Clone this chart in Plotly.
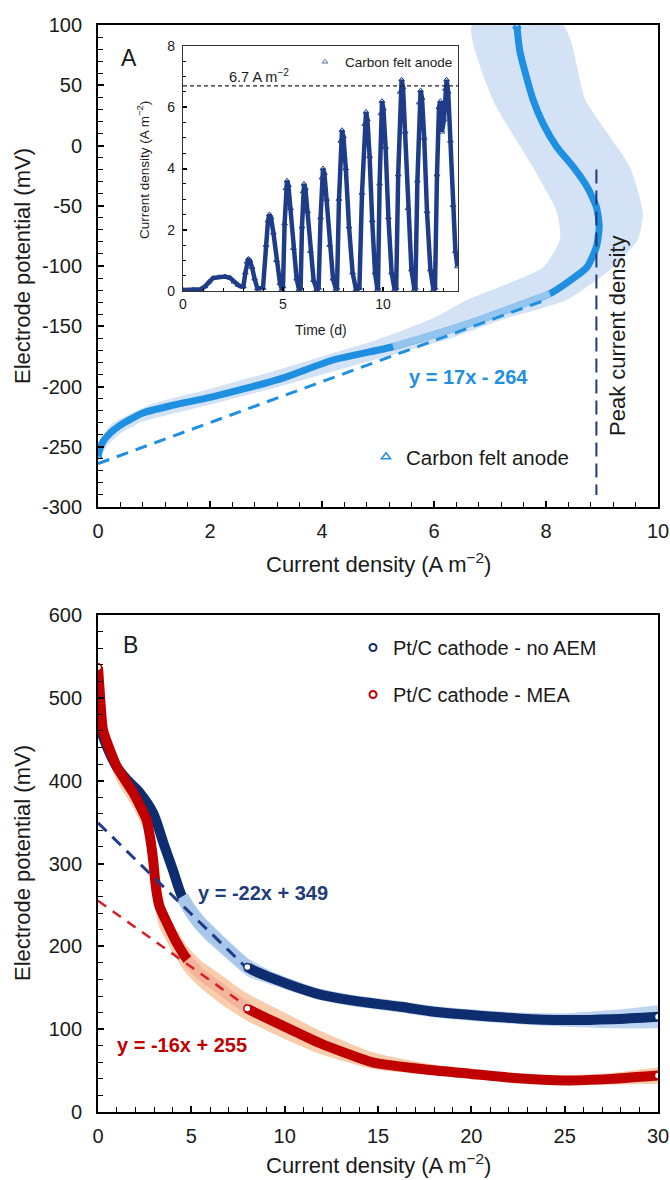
import plotly.graph_objects as go

W, H = 670, 1180
FONT = "Liberation Sans"

# ---------------- Panel A : carbon felt anode polarisation ----------------
a_x = [0, 0.03, 0.1, 0.21, 0.4, 0.8, 1.3, 2.0, 2.6, 3.3, 4.2, 5.27, 6.0, 6.8, 7.5, 8.07,
       8.37, 8.73, 8.9, 8.95, 8.9, 8.73, 8.49, 8.19, 7.95, 7.77, 7.65, 7.53, 7.48]
a_y = [-258, -252, -245, -239, -232, -222, -216, -209, -202, -193, -178, -167, -157, -145, -133, -123,
       -114, -101, -84, -67, -51, -34, -18, -1, 18, 38, 57, 79, 99]
# standard-deviation envelope (upper-left edge and lower-right edge)
a_band_ul_x = [0, 0.2, 1, 2, 3, 4, 5, 6, 6.6, 7.3, 7.95, 8.25, 8.2, 7.77, 7.05, 6.68]
a_band_ul_y = [-252, -233, -214, -202, -189, -175, -161, -143, -128, -115, -101, -78, -56, -18, 38, 100]
a_band_lr_x = [0, 0.15, 0.4, 0.8, 1.3, 2, 3, 4, 5.39, 6.3, 7.18, 8.37, 9.2, 9.64, 9.73, 9.5, 9.1, 8.7, 8.3]
a_band_lr_y = [-264, -250, -239, -229, -223, -215, -203, -190, -172, -160, -145, -128, -101, -78, -56, -18, 10, 38, 100]
A_FIT_SLOPE, A_FIT_INT = 17, -264
A_FIT_X = [0, 8]
A_FADE_Y = (-168, -120)
PEAK_J = 8.9
PEAK_LINE_Y = [-20, -290]
A_YTICKS = [100, 50, 0, -50, -100, -150, -200, -250, -300]
A_YTICKTEXT = ["100", "50", "0", "-50", "-100", "-150", "-200", "-250", "-300"]
A_XTICKS = [0, 2, 4, 6, 8, 10]

# ---------------- Inset : current density vs time ----------------
t_inset = [0, 0.5, 0.9, 1.1, 1.3, 1.5, 1.8, 2.1, 2.35, 2.55, 2.75, 2.9,
           3.02, 3.12, 3.2, 3.27, 3.34, 3.45, 3.58, 3.72,
           4.0, 4.15, 4.25, 4.32, 4.4, 4.52, 4.67, 4.85, 4.95,
           5.0, 5.08, 5.14, 5.2, 5.27, 5.38, 5.52, 5.68, 5.8,
           5.88, 5.95, 6.0, 6.05, 6.12, 6.23, 6.37, 6.53, 6.68,
           6.78, 6.88, 6.95, 7.0, 7.07, 7.18, 7.33, 7.5, 7.65,
           7.7, 7.8, 7.89, 7.95, 8.02, 8.14, 8.3, 8.48, 8.65,
           8.82, 8.95, 9.08, 9.15, 9.22, 9.33, 9.46, 9.6, 9.72,
           9.75, 9.83, 9.9, 9.95, 10.02, 10.13, 10.27, 10.43, 10.58,
           10.66, 10.76, 10.86, 10.93, 11.0, 11.11, 11.25, 11.42, 11.57,
           11.62, 11.72, 11.81, 11.88, 11.95, 12.06, 12.2, 12.37, 12.52,
           12.6, 12.7, 12.8, 12.87, 12.95, 13.05, 13.12, 13.18, 13.26, 13.37, 13.5, 13.62, 13.72]
j_inset = [0.03, 0.04, 0.06, 0.15, 0.3, 0.42, 0.45, 0.47, 0.43, 0.3, 0.2, 0.15,
           0.15, 0.6, 0.95, 1.05, 1.0, 0.78, 0.4, 0.08,
           0.1, 1.5, 2.3, 2.5, 2.4, 1.9, 1.0, 0.25, 0.05,
           0.15, 2.2, 3.35, 3.6, 3.45, 2.7, 1.4, 0.4, 0.05,
           0.1, 2.1, 3.25, 3.5, 3.35, 2.6, 1.3, 0.35, 0.05,
           0.1, 2.4, 3.7, 4.0, 3.85, 3.0, 1.5, 0.4, 0.05,
           0.1, 3.0, 4.9, 5.25, 5.05, 4.0, 2.1, 0.6, 0.05,
           0.1, 3.2, 5.45, 5.85, 5.6, 4.4, 2.3, 0.6, 0.05,
           0.1, 3.5, 5.8, 6.2, 5.95, 4.7, 2.4, 0.6, 0.05,
           0.1, 3.8, 6.5, 6.9, 6.65, 5.2, 2.7, 0.7, 0.05,
           0.1, 3.6, 6.15, 6.55, 6.3, 5.0, 2.6, 0.7, 0.05,
           0.1, 3.8, 6.0, 6.2, 5.2, 5.6, 6.6, 6.9, 6.5, 4.9, 2.8, 1.3, 0.8]
INSET_REF_J = 6.7
INSET_XTICKS = [0, 5, 10]
INSET_YTICKS = [0, 2, 4, 6, 8]

# ---------------- Panel B : Pt/C cathodes ----------------
nav_x = [0, 0.05, 0.27, 1.0, 1.6, 2.25, 2.95, 3.5, 4.0, 4.5, 5.1, 5.8, 6.8, 8.0, 9.5, 11.7,
         13.5, 16.2, 18, 20, 22.5, 25, 27.5, 30]
nav_y = [515, 470, 453, 417, 400, 385, 361, 325, 293, 260, 238, 220, 199, 175, 160, 143,
         135, 127, 121, 117, 113, 111, 112, 115]
nav_lo = [505, 460, 445, 409, 392, 377, 352, 314, 281, 246, 224, 207, 187, 164, 152, 136,
          128, 120, 114, 110, 106, 103, 101, 101]
nav_hi = [525, 480, 461, 425, 408, 393, 370, 336, 305, 272, 252, 233, 211, 186, 168, 150,
          142, 134, 128, 124, 120, 119, 123, 129]
red_x = [0, 0.1, 0.27, 1.0, 1.9, 2.6, 2.8, 2.95, 3.05, 3.15, 3.3, 3.7, 4.2, 4.78, 5.5, 6.5,
         8.0, 10, 11.9, 14.7, 17.7, 20, 22.3, 25, 27.5, 30]
red_y = [537, 505, 461, 417, 385, 353, 330, 305, 282, 264, 248, 228, 205, 184, 166, 150,
         125, 103, 83, 60, 51, 46, 41, 38, 40, 44]
red_lo = [530, 495, 445, 400, 367, 333, 305, 278, 252, 235, 222, 205, 185, 166, 150, 132,
          110, 88, 70, 52, 45, 40, 36, 33, 33, 34]
red_hi = [542, 515, 466, 420, 389, 357, 335, 310, 287, 270, 255, 240, 220, 200, 183, 167,
          143, 120, 98, 72, 58, 52, 46, 44, 47, 54]
NAV_FIT_SLOPE, NAV_FIT_INT = -22, 349
RED_FIT_SLOPE, RED_FIT_INT = -16, 255
B_FIT_X = [0, 8]
NAV_FADE_X = (4.5, 8.0)
RED_FADE_X = (4.78, 8.0)
B_XTICKS = [0, 5, 10, 15, 20, 25, 30]
B_YTICKS = [0, 100, 200, 300, 400, 500, 600]

# ---------------- colours ----------------
A_BLUE = "#1E8FE1"
A_BAND = "#D3E2F5"
A_PALE = "#93C5EE"
PEAK_NAVY = "#1F3A78"
INSET_NAVY = "#1F3C88"
B_NAVY = "#0E2D6E"
B_NAVY_BAND = "#BDD5F1"
B_NAVY_PALE = "#A9C7EA"
B_RED = "#C00000"
B_RED_BAND = "#F9CCAC"
B_RED_PALE = "#F2B49C"


def px(x):
    return x / W


def py(y):
    return 1 - y / H


fig = go.Figure()

# ---- Panel A traces ----
fig.add_trace(go.Scatter(
    x=a_band_ul_x + a_band_lr_x[::-1], y=a_band_ul_y + a_band_lr_y[::-1],
    fill="toself", fillcolor=A_BAND, mode="lines",
    line=dict(width=0, shape="spline", smoothing=0.6),
    xaxis="x", yaxis="y", showlegend=False, hoverinfo="skip"))
fig.add_trace(go.Scatter(
    x=a_x, y=a_y, mode="lines",
    line=dict(color=A_BLUE, width=7, shape="spline", smoothing=0.6),
    xaxis="x", yaxis="y", showlegend=False))
fig.add_trace(go.Scatter(
    x=[a_x[0], a_x[-1]], y=[a_y[0], a_y[-1]], mode="markers",
    marker=dict(symbol="triangle-up-open", size=7, color=A_BLUE, line=dict(width=1.5)),
    xaxis="x", yaxis="y", showlegend=False))
fade_idx = [i for i, v in enumerate(a_y) if A_FADE_Y[0] <= v <= A_FADE_Y[1] and a_x[i] > 5]
fig.add_trace(go.Scatter(
    x=[a_x[i] for i in fade_idx], y=[a_y[i] for i in fade_idx], mode="lines",
    line=dict(color=A_PALE, width=7, shape="spline", smoothing=0.6),
    xaxis="x", yaxis="y", showlegend=False, hoverinfo="skip"))
fig.add_trace(go.Scatter(
    x=A_FIT_X, y=[A_FIT_SLOPE * v + A_FIT_INT for v in A_FIT_X], mode="lines",
    line=dict(color=A_BLUE, width=3, dash="12px,8px"),
    xaxis="x", yaxis="y", showlegend=False))
fig.add_trace(go.Scatter(
    x=[PEAK_J, PEAK_J], y=PEAK_LINE_Y, mode="lines",
    line=dict(color=PEAK_NAVY, width=2, dash="14px,7px"),
    xaxis="x", yaxis="y", showlegend=False))
fig.add_trace(go.Scatter(
    x=[None], y=[None], mode="markers", name="Carbon felt anode",
    marker=dict(symbol="triangle-up-open", size=8, color=A_BLUE, line=dict(width=1.5)),
    xaxis="x", yaxis="y", legend="legend"))

# ---- Inset traces ----
fig.add_trace(go.Scatter(
    x=t_inset, y=j_inset, mode="lines+markers",
    line=dict(color=INSET_NAVY, width=4.5),
    marker=dict(symbol="triangle-up-open", size=5, color=INSET_NAVY, line=dict(width=1)),
    xaxis="x2", yaxis="y2", showlegend=False))
fig.add_trace(go.Scatter(
    x=[None], y=[None], mode="markers", name="Carbon felt anode",
    marker=dict(symbol="triangle-up-open", size=5, color="#5A6FA8", line=dict(width=1)),
    xaxis="x2", yaxis="y2", legend="legend2"))

# ---- Panel B traces ----
fig.add_trace(go.Scatter(x=nav_x, y=nav_lo, mode="lines",
                         line=dict(width=0, shape="spline", smoothing=0.5),
                         xaxis="x3", yaxis="y3", showlegend=False, hoverinfo="skip"))
fig.add_trace(go.Scatter(x=nav_x, y=nav_hi, mode="lines", fill="tonexty", fillcolor=B_NAVY_BAND,
                         line=dict(width=0, shape="spline", smoothing=0.5),
                         xaxis="x3", yaxis="y3", showlegend=False, hoverinfo="skip"))
fig.add_trace(go.Scatter(x=red_x, y=red_lo, mode="lines",
                         line=dict(width=0, shape="spline", smoothing=0.5),
                         xaxis="x3", yaxis="y3", showlegend=False, hoverinfo="skip"))
fig.add_trace(go.Scatter(x=red_x, y=red_hi, mode="lines", fill="tonexty", fillcolor=B_RED_BAND,
                         line=dict(width=0, shape="spline", smoothing=0.5),
                         xaxis="x3", yaxis="y3", showlegend=False, hoverinfo="skip"))
fig.add_trace(go.Scatter(x=nav_x, y=nav_y, mode="lines",
                         line=dict(color=B_NAVY, width=10, shape="spline", smoothing=0.9),
                         xaxis="x3", yaxis="y3", showlegend=False))
fig.add_trace(go.Scatter(x=red_x, y=red_y, mode="lines",
                         line=dict(color=B_RED, width=10, shape="spline", smoothing=0.5),
                         xaxis="x3", yaxis="y3", showlegend=False))
nf = [i for i, v in enumerate(nav_x) if NAV_FADE_X[0] <= v <= NAV_FADE_X[1]]
fig.add_trace(go.Scatter(x=[nav_x[i] for i in nf], y=[nav_y[i] for i in nf], mode="lines",
                         line=dict(color=B_NAVY_PALE, width=13, shape="spline", smoothing=0.5),
                         xaxis="x3", yaxis="y3", showlegend=False, hoverinfo="skip"))
rf = [i for i, v in enumerate(red_x) if RED_FADE_X[0] <= v <= RED_FADE_X[1]]
fig.add_trace(go.Scatter(x=[red_x[i] for i in rf], y=[red_y[i] for i in rf], mode="lines",
                         line=dict(color=B_RED_PALE, width=11, shape="spline", smoothing=0.5),
                         xaxis="x3", yaxis="y3", showlegend=False, hoverinfo="skip"))
fig.add_trace(go.Scatter(x=B_FIT_X, y=[NAV_FIT_SLOPE * v + NAV_FIT_INT for v in B_FIT_X], mode="lines",
                         line=dict(color=INSET_NAVY, width=3, dash="12px,8px"),
                         xaxis="x3", yaxis="y3", showlegend=False))
fig.add_trace(go.Scatter(x=B_FIT_X, y=[RED_FIT_SLOPE * v + RED_FIT_INT for v in B_FIT_X], mode="lines",
                         line=dict(color="#D42020", width=2.5, dash="10px,8px"),
                         xaxis="x3", yaxis="y3", showlegend=False))
# end-point and fit-end markers
n8 = nav_x.index(B_FIT_X[1])
r8 = red_x.index(B_FIT_X[1])
fig.add_trace(go.Scatter(x=[nav_x[n8], nav_x[-1]], y=[nav_y[n8], nav_y[-1]], mode="markers",
                         marker=dict(symbol="circle", size=7, color="white", line=dict(color=B_NAVY, width=1.5)),
                         xaxis="x3", yaxis="y3", showlegend=False))
fig.add_trace(go.Scatter(x=[red_x[0], red_x[r8], red_x[-1]], y=[red_y[0], red_y[r8], red_y[-1]], mode="markers",
                         marker=dict(symbol="circle", size=7, color="white", line=dict(color=B_RED, width=1.5)),
                         xaxis="x3", yaxis="y3", showlegend=False))
fig.add_trace(go.Scatter(x=[None], y=[None], mode="markers", name="Pt/C cathode - no AEM",
                         legendgroup="nav",
                         marker=dict(symbol="circle-open", size=7, color=B_NAVY, line=dict(width=2)),
                         xaxis="x3", yaxis="y3", legend="legend3"))
fig.add_trace(go.Scatter(x=[None], y=[None], mode="markers", name="Pt/C cathode - MEA",
                         legendgroup="red",
                         marker=dict(symbol="circle-open", size=7, color=B_RED, line=dict(width=2)),
                         xaxis="x3", yaxis="y3", legend="legend3"))


def axis(**kw):
    base = dict(showline=True, linecolor="black", linewidth=1.8, mirror=True,
                ticks="inside", ticklen=6, tickwidth=1.5, tickcolor="black",
                showgrid=False, zeroline=False, ticklabeloverflow="allow",
                tickfont=dict(family=FONT, size=20, color="#1a1a1a"))
    base.update(kw)
    return base


def minor(dt, ln=5):
    return dict(ticks="inside", ticklen=ln, tickwidth=1.2, tickcolor="black", dtick=dt, showgrid=False)


fig.update_layout(
    width=W, height=H, margin=dict(l=0, r=0, t=0, b=0, autoexpand=False),
    paper_bgcolor="white", plot_bgcolor="white",
    font=dict(family=FONT, color="#1a1a1a"),
    xaxis=axis(domain=[px(98), px(658)], range=[0, 10], tickmode="array", tickvals=A_XTICKS,
               minor=minor(0.4), anchor="y", ticklabelstandoff=5),
    yaxis=axis(domain=[py(507), py(25)], range=[-300, 100], tickmode="array",
               tickvals=A_YTICKS, ticktext=A_YTICKTEXT, minor=dict(minor(10), tick0=0),
               anchor="x", ticklabelstandoff=10),
    xaxis2=axis(domain=[px(183), px(458)], range=[0, 13.75], tickmode="array", tickvals=INSET_XTICKS,
                minor=minor(1, 3), anchor="y2", linewidth=1.2, linecolor="#333", ticklen=4,
                tickfont=dict(family=FONT, size=14, color="#1a1a1a")),
    yaxis2=axis(domain=[py(291), py(46)], range=[0, 8], tickmode="array", tickvals=INSET_YTICKS,
                minor=minor(0.5, 3), anchor="x2", linewidth=1.2, linecolor="#333", ticklen=4,
                tickfont=dict(family=FONT, size=14, color="#1a1a1a"), ticklabelstandoff=4),
    xaxis3=axis(domain=[px(98), px(658)], range=[0, 30], tickmode="array", tickvals=B_XTICKS,
                minor=minor(1), anchor="y3", ticklabelstandoff=5),
    yaxis3=axis(domain=[py(1112), py(615)], range=[0, 600], tickmode="array", tickvals=B_YTICKS,
                minor=minor(20), anchor="x3", ticklabelstandoff=10),
    legend=dict(x=px(366), y=py(457), xanchor="left", yanchor="middle",
                bgcolor="rgba(0,0,0,0)", font=dict(family=FONT, size=20.5, color="#1a1a1a")),
    legend2=dict(x=px(305), y=py(62), xanchor="left", yanchor="middle",
                 bgcolor="rgba(0,0,0,0)", font=dict(family=FONT, size=13.5, color="#1a1a1a")),
    legend3=dict(x=px(353), y=py(628), xanchor="left", yanchor="top", traceorder="grouped",
                 tracegroupgap=18, bgcolor="rgba(0,0,0,0)",
                 font=dict(family=FONT, size=20, color="#1a1a1a")),
    shapes=[dict(type="line", xref="x2 domain", yref="y2", x0=0, x1=1,
                 y0=INSET_REF_J, y1=INSET_REF_J,
                 line=dict(color="#222", width=1.2, dash="4px,3px"))],
)


def ann(text, x, y, size=20, color="#1a1a1a", angle=0, bold=False):
    if bold:
        text = "<b>" + text + "</b>"
    fig.add_annotation(text=text, x=px(x), y=py(y), xref="paper", yref="paper",
                       xanchor="center", yanchor="middle", showarrow=False, textangle=angle,
                       font=dict(family=FONT, size=size, color=color))


ann("Electrode potential (mV)", 22, 266, size=22, angle=-90)
ann("Current density (A m<sup>\u22122</sup>)", 378, 563, size=22)
ann("Electrode potential (mV)", 22, 863, size=22, angle=-90)
ann("Current density (A m<sup>\u22122</sup>)", 378, 1164, size=22)
ann("Current density (A m<sup>\u22122</sup>)", 143, 170, size=13.5, angle=-90)
ann("Time (d)", 321, 330, size=14)
ann("6.7 A m<sup>\u22122</sup>", 259, 76, size=14.5)
ann("A", 129, 58, size=23)
ann("B", 130, 645, size=23)
ann("Peak current density", 618, 336, size=22, angle=-90)
ann("y = 17x - 264", 468, 377, size=20, color=A_BLUE, bold=True)
ann("y = -22x + 349", 263, 893, size=20, color="#1F3C7A", bold=True)
ann("y = -16x + 255", 182, 1045, size=20, color=B_RED, bold=True)

fig.write_html("out.html", config={"displayModeBar": False},
               post_script="document.body.style.margin='0px';")
